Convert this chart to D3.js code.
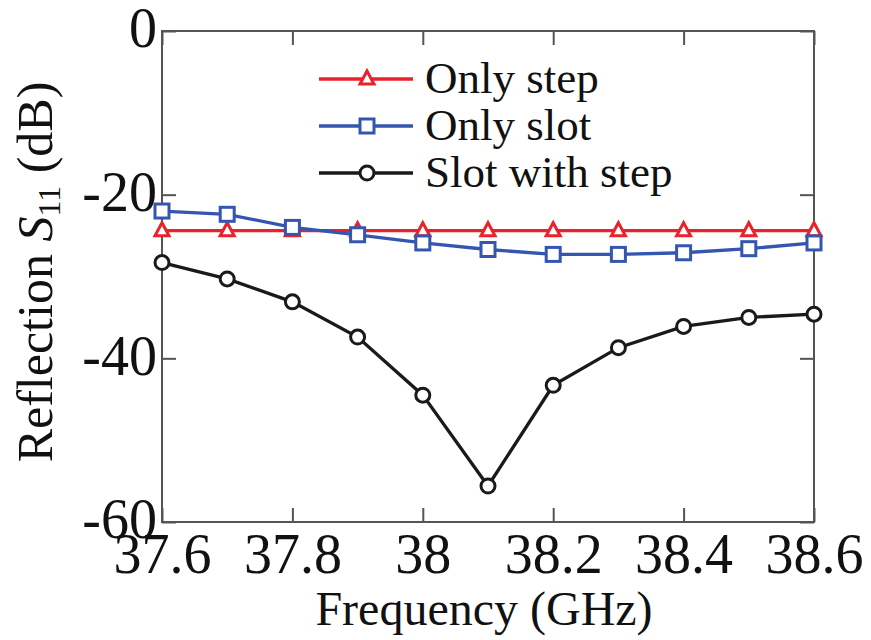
<!DOCTYPE html>
<html><head><meta charset="utf-8">
<script src="https://cdn.jsdelivr.net/npm/d3@7"></script>
<style>body{margin:0;background:#fff}svg{display:block}</style>
</head><body>
<svg id="c" width="871" height="640"></svg>
<script>
const freq = [37.6,37.7,37.8,37.9,38.0,38.1,38.2,38.3,38.4,38.5,38.6];
const onlyStep = [-24.4,-24.4,-24.4,-24.4,-24.4,-24.4,-24.4,-24.4,-24.4,-24.4,-24.4];
const onlySlot = [-22.0,-22.4,-24.0,-24.9,-25.9,-26.7,-27.3,-27.3,-27.1,-26.6,-25.9];
const slotWithStep = [-28.3,-30.3,-33.1,-37.4,-44.5,-55.6,-43.3,-38.7,-36.1,-35.0,-34.6];
const xTicks = [37.6,37.8,38.0,38.2,38.4,38.6];
const xTickLabels = ["37.6","37.8","38","38.2","38.4","38.6"];
const yTicks = [0,-20,-40,-60];
const yTickLabels = ["0","-20","-40","-60"];
const seriesNames = ["Only step","Only slot","Slot with step"];

const svg = d3.select("#c");
const L=162,R=814,T=31,B=522;
const x = d3.scaleLinear().domain([37.6,38.6]).range([L,R]);
const y = d3.scaleLinear().domain([-60,0]).range([B,T]);
const font = "'Liberation Serif','Times New Roman',serif";
const frameCol = "#555";

// frame
svg.append("rect").attr("x",L).attr("y",T).attr("width",R-L).attr("height",B-T)
  .attr("fill","none").attr("stroke",frameCol).attr("stroke-width",2);

const tl = 14;
const gx = svg.append("g").attr("transform",`translate(0,${B})`)
  .call(d3.axisBottom(x).tickValues(xTicks).tickSize(-tl).tickPadding(10).tickFormat((d,i)=>xTickLabels[i]));
const gxt = svg.append("g").attr("transform",`translate(0,${T})`)
  .call(d3.axisTop(x).tickValues(xTicks).tickSize(-tl).tickFormat(""));
const gy = svg.append("g").attr("transform",`translate(${L},0)`)
  .call(d3.axisLeft(y).tickValues(yTicks).tickSize(-tl).tickPadding(5).tickFormat((d,i)=>yTickLabels[i]));
const gyr = svg.append("g").attr("transform",`translate(${R},0)`)
  .call(d3.axisRight(y).tickValues(yTicks).tickSize(-tl).tickFormat(""));
[gx,gxt,gy,gyr].forEach(g=>{
  g.attr("font-family",font);
  g.select(".domain").remove();
  g.selectAll(".tick line").attr("stroke",frameCol).attr("stroke-width",2);
  g.selectAll("text").attr("font-family",font).attr("font-size",56).attr("fill","#111");
});
gx.selectAll("text").attr("dy",null).attr("dominant-baseline","auto").attr("y",51);
gy.selectAll("text").attr("dy","0.28em");

// titles
svg.append("text").attr("x",484).attr("y",625).attr("text-anchor","middle")
  .attr("font-family",font).attr("font-size",48).attr("fill","#111").text("Frequency (GHz)");
const yt = svg.append("text").attr("transform","translate(52,272) rotate(-90)").attr("text-anchor","middle")
  .attr("font-family",font).attr("font-size",50).attr("fill","#111");
yt.append("tspan").text("Reflection ");
yt.append("tspan").attr("font-style","italic").text("S");
yt.append("tspan").attr("font-size",32).attr("dy",8).text("11");
yt.append("tspan").attr("dy",-8).text(" (dB)");

const colors = ["#e8232b","#3556b0","#1a1a1a"];
const data = [onlyStep,onlySlot,slotWithStep];
const line = d3.line().x((d,i)=>x(freq[i])).y(d=>y(d));

function marker(g,type,cx,cy,col){
  if(type===0){
    const s=7;
    g.append("path").attr("d",`M${cx},${cy-s-1}L${cx+s},${cy+s-2}L${cx-s},${cy+s-2}Z`)
      .attr("fill","#fff").attr("stroke",col).attr("stroke-width",3);
  } else if(type===1){
    const s=7;
    g.append("rect").attr("x",cx-s).attr("y",cy-s).attr("width",2*s).attr("height",2*s)
      .attr("fill","#fff").attr("stroke",col).attr("stroke-width",3);
  } else {
    g.append("circle").attr("cx",cx).attr("cy",cy).attr("r",7)
      .attr("fill","#fff").attr("stroke",col).attr("stroke-width",3);
  }
}

[0,2,1].forEach(k=>{
  const g = svg.append("g");
  g.append("path").datum(data[k]).attr("d",line).attr("fill","none")
    .attr("stroke",colors[k]).attr("stroke-width",3.3);
  data[k].forEach((v,i)=>marker(g,k,x(freq[i]),y(v),colors[k]));
});

// legend
const ly=[79,126,173];
seriesNames.forEach((n,k)=>{
  const g=svg.append("g");
  g.append("line").attr("x1",319).attr("x2",413).attr("y1",ly[k]).attr("y2",ly[k])
    .attr("stroke",colors[k]).attr("stroke-width",3.3);
  marker(g,k,367,ly[k],colors[k]);
  g.append("text").attr("x",425).attr("y",ly[k]+14).attr("font-family",font)
    .attr("font-size",45).attr("fill","#111").text(n);
});
</script>
</body></html>
